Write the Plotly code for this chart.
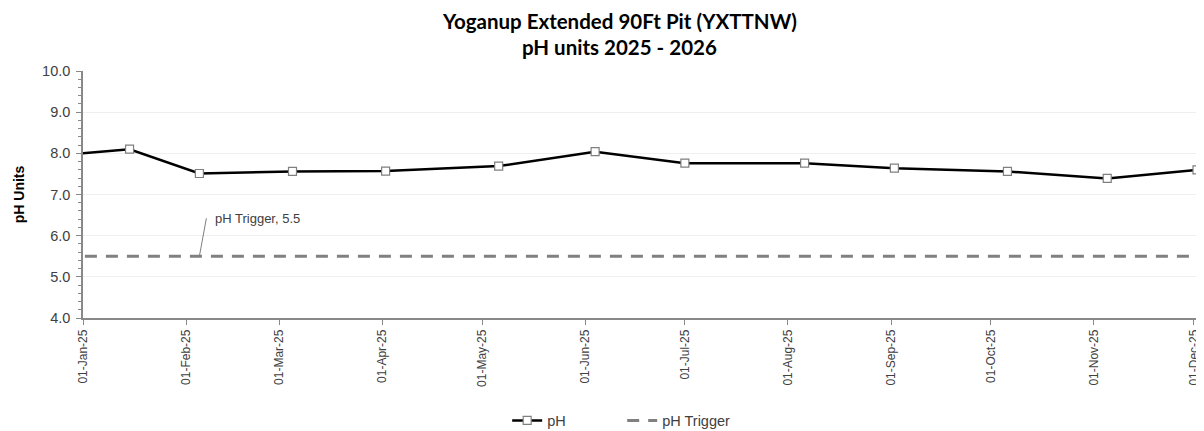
import plotly.graph_objects as go

# ---- data ----
sample_dates = ["2024-12-16", "2025-01-15", "2025-02-05", "2025-03-05", "2025-04-02",
                "2025-05-06", "2025-06-04", "2025-07-01", "2025-08-06", "2025-09-02",
                "2025-10-06", "2025-11-05", "2025-12-02"]
ph_values = [7.89, 8.10, 7.51, 7.56, 7.57, 7.69, 8.04, 7.76, 7.76, 7.64, 7.56, 7.39, 7.60]

trigger_dates = ["2024-12-01", "2025-12-31"]
trigger_values = [5.5, 5.5]

tick_dates = ["2025-01-01", "2025-02-01", "2025-03-01", "2025-04-01", "2025-05-01",
              "2025-06-01", "2025-07-01", "2025-08-01", "2025-09-01", "2025-10-01",
              "2025-11-01", "2025-12-01"]
tick_labels = ["01-Jan-25", "01-Feb-25", "01-Mar-25", "01-Apr-25", "01-May-25",
               "01-Jun-25", "01-Jul-25", "01-Aug-25", "01-Sep-25", "01-Oct-25",
               "01-Nov-25", "01-Dec-25"]

title_lines = ["Yoganup Extended 90Ft Pit (YXTTNW)", "pH units 2025 - 2026"]

fig = go.Figure()

fig.add_trace(go.Scatter(
    x=sample_dates, y=ph_values, name="pH", mode="lines+markers",
    line=dict(color="#000000", width=2.5),
    marker=dict(symbol="square", size=8, color="#ffffff",
                line=dict(color="#7f7f7f", width=1.2)),
))

fig.add_trace(go.Scatter(
    x=trigger_dates, y=trigger_values, name="pH Trigger", mode="lines",
    line=dict(color="#808080", width=3, dash="12px,9px"),
))

fig.add_annotation(
    x="2025-02-05", y=5.5, xref="x", yref="y",
    text="pH Trigger, 5.5", showarrow=True, arrowhead=0, arrowwidth=1,
    arrowcolor="#7f7f7f", ax=7, ay=-38, xanchor="left", yanchor="middle",
    borderpad=8,
    font=dict(family="Liberation Sans, Arial", size=13, color="#404040"),
)

title_font = dict(family="Lato, Open Sans", size=20.5, color="#000000")
fig.add_annotation(text="<b>" + title_lines[0] + "</b>", x=0.482, y=1.2024,
                   xref="paper", yref="paper", showarrow=False,
                   xanchor="center", yanchor="middle", font=title_font)
fig.add_annotation(text="<b>" + title_lines[1] + "</b>", x=0.482, y=1.097,
                   xref="paper", yref="paper", showarrow=False,
                   xanchor="center", yanchor="middle", font=title_font)

fig.update_layout(
    width=1196, height=423,
    paper_bgcolor="#ffffff", plot_bgcolor="#ffffff",
    margin=dict(l=75, r=7, t=63, b=113, autoexpand=False),
    showlegend=True,
    legend=dict(orientation="h", x=0.484, xanchor="center", y=-0.415, yanchor="middle",
                entrywidth=70, entrywidthmode="pixels",
                font=dict(family="Liberation Sans, Arial", size=14.5, color="#404040"),
                bgcolor="rgba(0,0,0,0)"),
    xaxis=dict(
        type="date", range=["2025-01-01", "2025-12-02"], automargin=False,
        tickmode="array", tickvals=tick_dates, ticktext=tick_labels,
        tickangle=-90, ticks="outside", ticklen=5, tickcolor="#898989",
        showline=True, linecolor="#898989", linewidth=1.5,
        showgrid=False, zeroline=False,
        tickfont=dict(family="Liberation Sans, Arial", size=12, color="#404040"),
    ),
    yaxis=dict(
        range=[4.0, 10.0], tick0=4, dtick=1, tickformat=".1f", automargin=False,
        ticks="outside", ticklen=5, tickcolor="#898989", ticklabelstandoff=3,
        minor=dict(dtick=0.2, ticks="outside", ticklen=3, tickcolor="#898989", showgrid=False),
        showline=True, linecolor="#898989", linewidth=1.5,
        showgrid=True, gridcolor="#efefef", gridwidth=1, zeroline=False,
        tickfont=dict(family="Liberation Sans, Arial", size=14.5, color="#404040"),
        title=dict(text="<b>pH Units</b>", standoff=14,
                   font=dict(family="Liberation Sans, Arial", size=14, color="#000000")),
    ),
)

fig.write_html("out.html")
